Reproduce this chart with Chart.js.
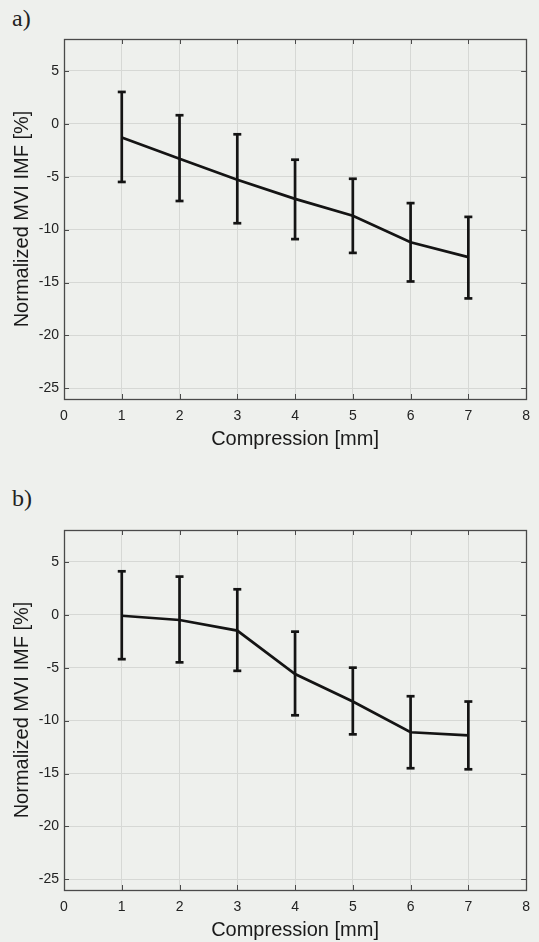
<!DOCTYPE html>
<html>
<head>
<meta charset="utf-8">
<script src="https://cdn.jsdelivr.net/npm/chart.js@4"></script>
<style>
  body { margin: 0; background: #eef0ed; width: 539px; height: 942px; position: relative; overflow: hidden; }
  .panel { position: absolute; left: 0; }
  .tag { position: absolute; left: 12px; font-family: "Liberation Serif", "DejaVu Serif", serif; font-size: 24px; line-height: 24px; color: #222; }
</style>
</head>
<body>
<div class="tag" style="top:6px">a)</div>
<div class="panel" style="top:0"><canvas id="chartA" width="539" height="470"></canvas></div>
<div class="tag" style="top:486px">b)</div>
<div class="panel" style="top:471px"><canvas id="chartB" width="539" height="471"></canvas></div>

<script>
// values
const compression = [1, 2, 3, 4, 5, 6, 7];
const yTicks = [5, 0, -5, -10, -15, -20, -25];

const meanA  = [-1.3, -3.3, -5.3, -7.1, -8.7, -11.2, -12.6];
const upperA = [3.0, 0.8, -1.0, -3.4, -5.2, -7.5, -8.8];
const lowerA = [-5.5, -7.3, -9.4, -10.9, -12.2, -14.9, -16.5];

const meanB  = [-0.1, -0.5, -1.5, -5.6, -8.2, -11.1, -11.4];
const upperB = [4.1, 3.6, 2.4, -1.6, -5.0, -7.7, -8.2];
const lowerB = [-4.2, -4.5, -5.3, -9.5, -11.3, -14.5, -14.6];

const ink = '#141414';
const frame = '#4a4a4a';

// box round the plot + matlab style inward ticks on all sides
const boxTicks = {
  id: 'boxTicks',
  afterDatasetsDraw(chart) {
    const { ctx, chartArea: a, scales: { x, y } } = chart;
    ctx.save();
    ctx.strokeStyle = frame;
    ctx.lineWidth = 1;
    ctx.beginPath();
    x.ticks.forEach(t => {
      const px = Math.round(x.getPixelForValue(t.value)) + 0.5;
      ctx.moveTo(px, a.bottom); ctx.lineTo(px, a.bottom - 5);
      ctx.moveTo(px, a.top); ctx.lineTo(px, a.top + 5);
    });
    y.ticks.forEach(t => {
      const py = Math.round(y.getPixelForValue(t.value)) + 0.5;
      ctx.moveTo(a.left, py); ctx.lineTo(a.left + 5, py);
      ctx.moveTo(a.right, py); ctx.lineTo(a.right - 5, py);
    });
    ctx.stroke();
    ctx.lineWidth = 1.3;
    ctx.strokeRect(Math.round(a.left) + 0.5, Math.round(a.top) + 0.5, Math.round(a.right - a.left), Math.round(a.bottom - a.top));
    ctx.restore();
  }
};

function makeChart(id, mean, upper, lower, padTop, padBottom) {
  const datasets = [{
    type: 'line',
    data: compression.map((x, i) => ({ x, y: mean[i] })),
    borderColor: ink,
    borderWidth: 2.7,
    pointRadius: 0,
    tension: 0
  }];
  // vertical error bars
  compression.forEach((x, i) => {
    datasets.push({
      type: 'line',
      data: [{ x, y: lower[i] }, { x, y: upper[i] }],
      borderColor: ink,
      borderWidth: 2.7,
      pointRadius: 0
    });
  });
  // caps
  datasets.push({
    type: 'scatter',
    data: compression.map((x, i) => ({ x, y: upper[i] })).concat(compression.map((x, i) => ({ x, y: lower[i] }))),
    pointStyle: 'line',
    pointRadius: 4,
    borderColor: ink,
    borderWidth: 2.7
  });

  return new Chart(document.getElementById(id), {
    type: 'line',
    data: { datasets },
    plugins: [boxTicks],
    options: {
      responsive: false,
      animation: false,
      layout: { padding: { left: 0, top: padTop, right: 11, bottom: padBottom } },
      plugins: { legend: { display: false }, tooltip: { enabled: false } },
      scales: {
        x: {
          type: 'linear',
          min: 0, max: 8,
          ticks: { stepSize: 1, padding: 9, color: '#222', font: { family: 'Liberation Sans', size: 14 } },
          grid: { color: '#d6d8d5', drawTicks: false },
          border: { display: false },
          title: { display: true, text: 'Compression [mm]', color: '#1a1a1a', font: { family: 'Liberation Sans', size: 20 }, padding: { top: 0, bottom: 0 } },
          afterFit: s => { s.height = 52; }
        },
        y: {
          type: 'linear',
          min: -26, max: 8,
          afterBuildTicks: s => { s.ticks = yTicks.map(v => ({ value: v })); },
          ticks: { padding: 5, color: '#222', font: { family: 'Liberation Sans', size: 14 } },
          grid: { color: '#d6d8d5', drawTicks: false },
          border: { display: false },
          title: { display: true, text: 'Normalized MVI IMF [%]', color: '#1a1a1a', font: { family: 'Liberation Sans', size: 20 }, padding: { top: 10, bottom: 0 } },
          afterFit: s => { s.width = 64; }
        }
      }
    }
  });
}

makeChart('chartA', meanA, upperA, lowerA, 39, 19);
makeChart('chartB', meanB, upperB, lowerB, 59, 0);
</script>
</body>
</html>
